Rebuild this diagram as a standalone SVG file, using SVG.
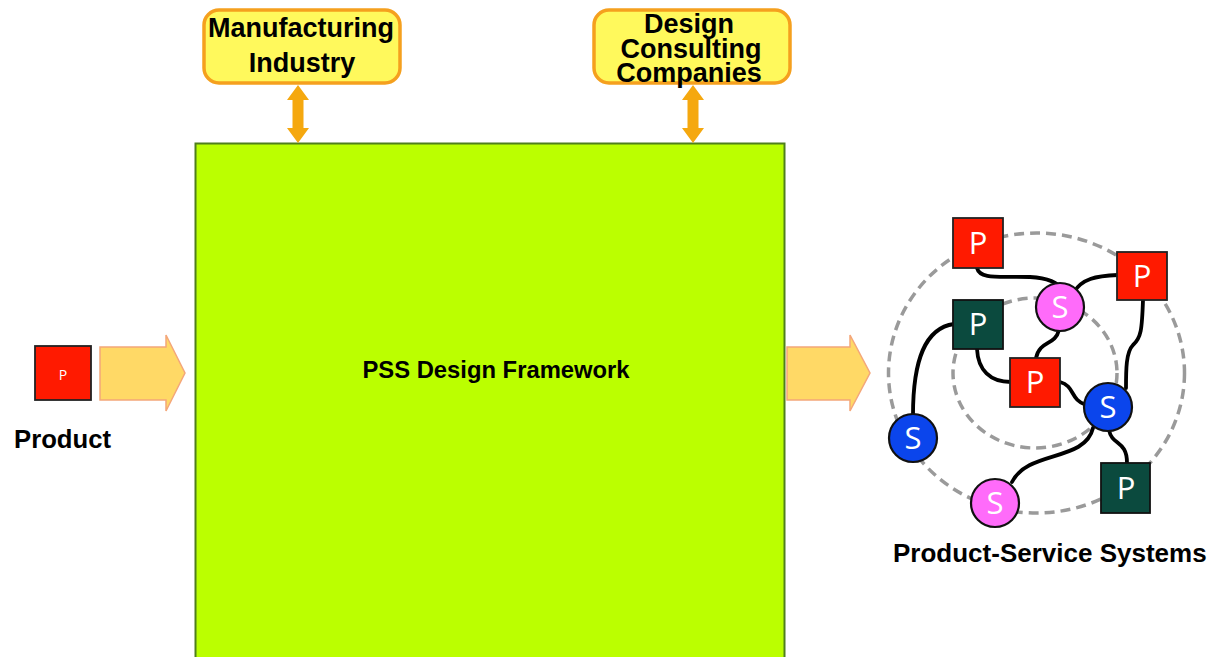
<svg xmlns="http://www.w3.org/2000/svg" width="1215" height="657" viewBox="0 0 1215 657">
  <style>
    .lbl { font-family: "Liberation Sans", Arial, sans-serif; font-weight: bold; fill: #000; }
    .stake { fill: #FFF95C; stroke: #F5A01E; stroke-width: 3.5; }
    .dbl { fill: #F5A80F; }
    .flow { fill: #FFD966; stroke: #F4A77A; stroke-width: 1.5; }
    .ring { fill: none; stroke: #9A9A9A; stroke-width: 3.5; stroke-dasharray: 10 6; }
    .link { fill: none; stroke: #000; stroke-width: 3.8; stroke-linecap: round; }
    .pr { fill: #FF1A00; stroke: #222; stroke-width: 1.8; }
    .pg { fill: #0B4A3E; stroke: #111; stroke-width: 1.8; }
    .sp { fill: #FF6BFA; stroke: #111; stroke-width: 2.2; }
    .sb { fill: #0B45EC; stroke: #111; stroke-width: 2.2; }
    .glyph { font-family: "Open Sans", "DejaVu Sans", sans-serif; fill: #fff; font-size: 31px; text-anchor: middle; }
  </style>

  <rect width="1215" height="657" fill="#fff"/>

  <!-- framework block -->
  <g id="framework">
    <rect x="195.5" y="143.5" width="589" height="520" fill="#BBFF00" stroke="#4F7F1C" stroke-width="2"/>
    <text class="lbl" x="496" y="378" font-size="23.8" text-anchor="middle">PSS Design Framework</text>
  </g>

  <!-- stakeholders -->
  <g id="manufacturing">
    <rect class="stake" x="204" y="10" width="196" height="73" rx="15"/>
    <text class="lbl" x="301" y="37" font-size="27" text-anchor="middle">Manufacturing</text>
    <text class="lbl" x="302" y="72" font-size="27" text-anchor="middle">Industry</text>
  </g>
  <g id="consulting">
    <rect class="stake" x="594" y="10" width="196" height="73" rx="15"/>
    <text class="lbl" x="689" y="33" font-size="27" text-anchor="middle">Design</text>
    <text class="lbl" x="691" y="58" font-size="27" text-anchor="middle">Consulting</text>
    <text class="lbl" x="689" y="82" font-size="27" text-anchor="middle">Companies</text>
  </g>

  <!-- input product -->
  <g id="product">
    <rect class="pr" x="35" y="346" width="56" height="54"/>
    <text x="63" y="380" font-family="Open Sans, DejaVu Sans, sans-serif" font-size="14" fill="#fff" text-anchor="middle">P</text>
    <text class="lbl" x="14" y="448" font-size="25.7">Product</text>
  </g>

  <!-- output: product-service system network -->
  <g id="pss">
    <ellipse class="ring" cx="1036.5" cy="373" rx="148" ry="140"/>
    <ellipse class="ring" cx="1035" cy="373" rx="82" ry="75"/>

    <g id="pss-links">
      <path class="link" d="M977,268 C980,280 1000,276 1030,277 C1048,278 1058,282 1062,290"/>
      <path class="link" d="M1074,292 C1082,279 1095,276 1118,275"/>
      <path class="link" d="M1059,330 C1055,346 1040,340 1036,358"/>
      <path class="link" d="M954,324 C925,328 913,360 913,415"/>
      <path class="link" d="M977,349 C978,370 990,382 1011,382"/>
      <path class="link" d="M1060,382 C1075,386 1070,400 1086,405"/>
      <path class="link" d="M1143,300 C1142,330 1141,338 1133,345 C1126,352 1126,370 1126,388"/>
      <path class="link" d="M1093,428 C1085,462 1028,450 1012,482"/>
      <path class="link" d="M1109,430 C1112,446 1127,440 1127,463"/>
    </g>

    <g id="pss-nodes">
      <rect class="pr" x="953" y="218" width="50" height="50"/>
      <text class="glyph" x="978" y="254">P</text>
      <rect class="pr" x="1117" y="252" width="50" height="48"/>
      <text class="glyph" x="1142" y="287">P</text>
      <circle class="sp" cx="1060" cy="307" r="24"/>
      <text class="glyph" x="1060" y="318">S</text>
      <rect class="pg" x="953" y="300" width="50" height="49"/>
      <text class="glyph" x="978" y="335">P</text>
      <rect class="pr" x="1010" y="358" width="50" height="49"/>
      <text class="glyph" x="1035" y="393">P</text>
      <circle class="sb" cx="1108" cy="407" r="24"/>
      <text class="glyph" x="1108" y="418">S</text>
      <circle class="sb" cx="913" cy="438" r="24"/>
      <text class="glyph" x="913" y="449">S</text>
      <circle class="sp" cx="995" cy="503" r="24"/>
      <text class="glyph" x="995" y="514">S</text>
      <rect class="pg" x="1101" y="463" width="49" height="50"/>
      <text class="glyph" x="1126" y="499">P</text>
    </g>
    <text class="lbl" x="893" y="562" font-size="26">Product-Service Systems</text>
  </g>

  <!-- connectors -->
  <g id="connectors">
    <path class="dbl" d="M298,85 L309,100 L303.5,100 L303.5,128 L309,128 L298,143 L287,128 L292.5,128 L292.5,100 L287,100 Z"/>
    <path class="dbl" d="M693,85 L704,100 L698.5,100 L698.5,128 L704,128 L693,143 L682,128 L687.5,128 L687.5,100 L682,100 Z"/>
    <path class="flow" d="M100,347 L166,347 L166,335 L185,373 L166,411 L166,400 L100,400 Z"/>
    <path class="flow" d="M787,347 L850,347 L850,335 L870,373 L850,411 L850,400 L787,400 Z"/>
  </g>
</svg>
